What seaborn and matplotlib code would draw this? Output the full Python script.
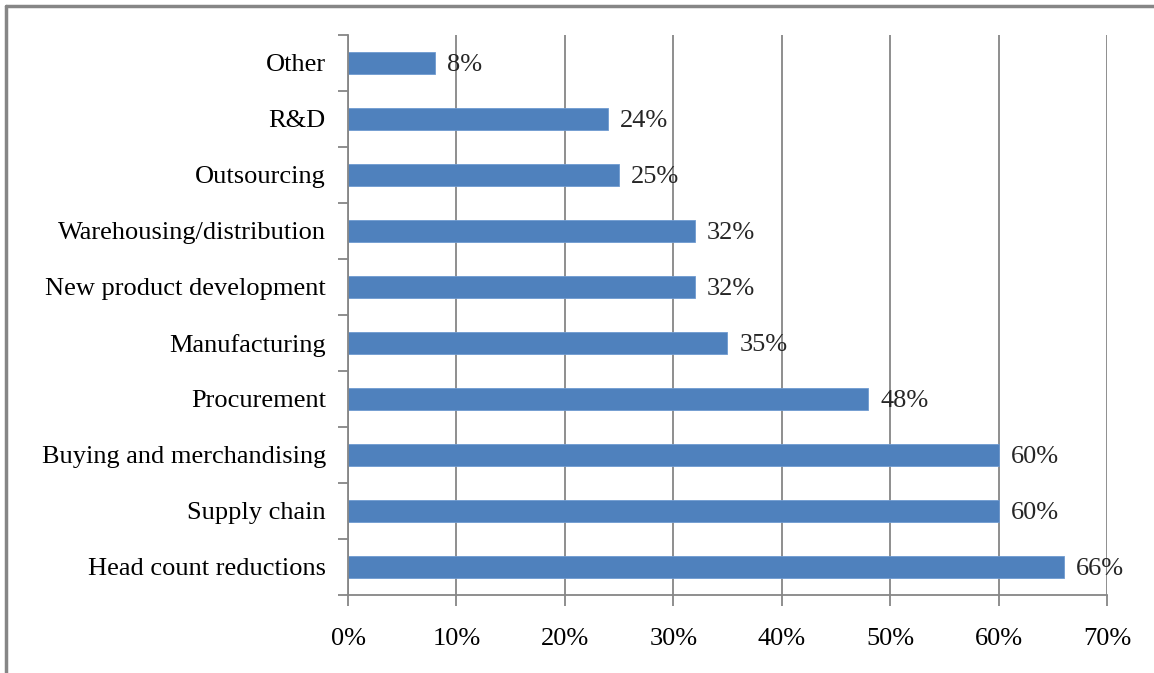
import pandas as pd
import seaborn as sns
import matplotlib.pyplot as plt
from matplotlib.lines import Line2D
from matplotlib.ticker import MultipleLocator, FuncFormatter

# chart data (top to bottom)
categories = ["Other", "R&D", "Outsourcing", "Warehousing/distribution",
              "New product development", "Manufacturing", "Procurement",
              "Buying and merchandising", "Supply chain", "Head count reductions"]
values = [8, 24, 25, 32, 32, 35, 48, 60, 60, 66]

df = pd.DataFrame({"area": categories, "pct": values})

sns.set_theme(style="white")
plt.rcParams["font.family"] = ["Liberation Serif", "DejaVu Serif"]
grey = "#868686"
fs = 19

fig = plt.figure(figsize=(11.54, 6.73), dpi=100)
ax = fig.add_axes([0.3016, 0.1159, 0.6576, 0.8321])

sns.barplot(data=df, x="pct", y="area", orient="h", color="#4F81BD",
            width=0.4, saturation=1, ax=ax, edgecolor="#6F9AD0", linewidth=0.6)

ax.set_xlim(0, 70)
ax.set_ylim(len(categories) - 0.5, -0.5)
ax.xaxis.set_major_locator(MultipleLocator(10))
ax.xaxis.set_major_formatter(FuncFormatter(lambda v, p: f"{v:.0f}%"))
ax.grid(axis="x", color=grey, linewidth=1.3)
ax.set_axisbelow(True)
ax.set_xlabel("")
ax.set_ylabel("")

for s in ["top", "right"]:
    ax.spines[s].set_visible(False)
for s in ["left", "bottom"]:
    ax.spines[s].set_color(grey)
    ax.spines[s].set_linewidth(1.3)

ax.tick_params(axis="x", bottom=True, direction="out", length=8, width=1.3,
               color=grey, labelsize=fs, pad=16, labelcolor="black")
ax.tick_params(axis="y", left=False, labelsize=fs, pad=10, labelcolor="black")
# category boundary tick marks on the left axis
ax.set_yticks([i - 0.5 for i in range(len(categories) + 1)], minor=True)
ax.tick_params(axis="y", which="minor", left=True, direction="out", length=7,
               width=1.3, color=grey)

for i, v in enumerate(values):
    ax.text(v + 1.1, i + 0.04, f"{v}%", va="center", ha="left", fontsize=fs)

# outer frame (top and left edges)
fig.add_artist(Line2D([0.0052, 1], [0.9911, 0.9911], color=grey, linewidth=2.5))
fig.add_artist(Line2D([0.0052, 0.0052], [0, 0.9911], color=grey, linewidth=2.5))

fig.savefig("out.png", dpi=100, facecolor="white")
